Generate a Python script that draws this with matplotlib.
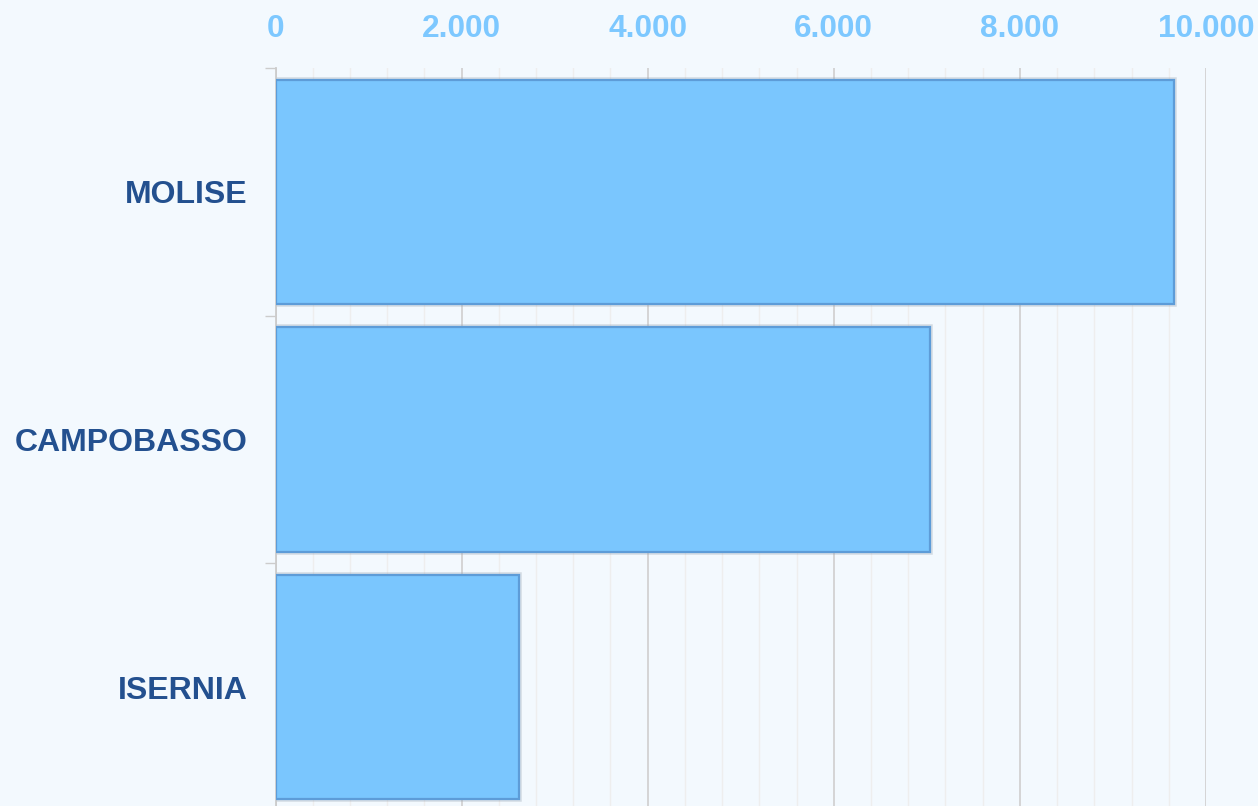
import matplotlib
matplotlib.use("Agg")
import matplotlib.pyplot as plt
from matplotlib.ticker import MultipleLocator, FuncFormatter, FixedLocator

categories = ["MOLISE", "CAMPOBASSO", "ISERNIA"]
values = [9656, 7034, 2620]
x_ticks = [0, 2000, 4000, 6000, 8000, 10000]

plt.rcParams['font.family'] = ['Liberation Sans', 'DejaVu Sans']

W, H = 1258, 806
fig = plt.figure(figsize=(W / 100, H / 100), dpi=100, facecolor='#F3F9FE')
ax = fig.add_axes([275.5 / W, (806 - 811) / H, (1206 - 275.5) / W, (811 - 68) / H])
ax.set_facecolor('#F3F9FE')

pos = list(range(len(categories)))
# shadow layer then the real bars
ax.barh(pos, values, height=0.907, color='none', edgecolor='#9aa6b4',
        linewidth=4, alpha=0.35, zorder=2)
ax.barh(pos, values, height=0.907, color='#7AC6FE', edgecolor='#5D9CD8',
        linewidth=1.6, zorder=3)

ax.set_xlim(0, 10000)
ax.set_ylim(len(categories) - 0.5, -0.5)

ax.xaxis.tick_top()
ax.xaxis.set_major_locator(FixedLocator(x_ticks))
ax.xaxis.set_minor_locator(MultipleLocator(400))
ax.xaxis.set_major_formatter(FuncFormatter(lambda v, p: f"{int(v):,}".replace(",", ".")))
ax.tick_params(axis='x', which='both', length=0, pad=17, labelsize=22.8,
               labelcolor='#7DC8FF')
for t in ax.get_xticklabels():
    t.set_fontweight('bold')

ax.set_yticks(pos)
ax.set_yticklabels(categories, fontsize=23, fontweight='bold', color='#23508F')
ax.set_yticks([p - 0.5 for p in pos], minor=True)
ax.tick_params(axis='y', which='major', length=0, pad=20)
ax.tick_params(axis='y', which='minor', length=8, width=1, color='#cccccc')

ax.grid(axis='x', which='major', color='#d2d2d2', linewidth=1.3, zorder=0)
ax.grid(axis='x', which='minor', color='#eeeeee', linewidth=1, zorder=0)
ax.set_axisbelow(True)

for s in ['top', 'right', 'bottom']:
    ax.spines[s].set_visible(False)
ax.spines['left'].set_color('#cccccc')
ax.spines['left'].set_linewidth(1.3)

fig.savefig("out.png", dpi=100, facecolor=fig.get_facecolor())
